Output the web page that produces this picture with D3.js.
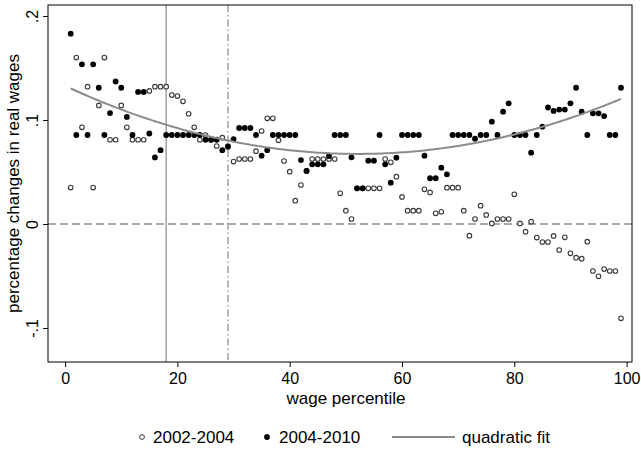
<!DOCTYPE html>
<html>
<head>
<meta charset="utf-8">
<script src="https://cdn.jsdelivr.net/npm/d3@7"></script>
<style>
  body { margin: 0; background: #fff; }
  svg { display: block; font-family: "Liberation Sans", Arial, sans-serif; }
</style>
</head>
<body>
<svg id="chart" width="641" height="451"></svg>
<script>
// Wage percentiles 1..99
const percentiles = d3.range(1, 100);

// Percentage change in real wages, 2002-2004
const change0204 = [
  0.035, 0.160, 0.093, 0.132, 0.035, 0.114, 0.160, 0.081, 0.081, 0.114,
  0.093, 0.081, 0.081, 0.081, 0.128, 0.132, 0.132, 0.132, 0.124, 0.123,
  0.118, 0.106, 0.093, 0.081, 0.0856, 0.081, 0.075, 0.083, 0.075, 0.060,
  0.0625, 0.0625, 0.0625, 0.070, 0.0894, 0.1016, 0.1016, 0.0805, 0.0606, 0.0503,
  0.0224, 0.0375, 0.051, 0.0625, 0.0625, 0.0625, 0.0625, 0.0625, 0.0295, 0.0128,
  0.0048, 0.0343, 0.0343, 0.0343, 0.0343, 0.0343, 0.0625, 0.0593, 0.0455, 0.026,
  0.0128, 0.0128, 0.0128, 0.0333, 0.0304, 0.0103, 0.0118, 0.0349, 0.0349, 0.0349,
  0.0128, -0.0112, 0.0048, 0.0176, 0.0087, 0.0006, 0.0048, 0.0048, 0.0048, 0.0285,
  0.0006, -0.0074, 0.0022, -0.0131, -0.0173, -0.0173, -0.0115, -0.025, -0.0128, -0.0282,
  -0.0324, -0.0333, -0.017, -0.0452, -0.0503, -0.0433, -0.0452, -0.0452, -0.0907
];

// Percentage change in real wages, 2004-2010
const change0410 = [
  0.183, 0.0856, 0.1535, 0.0856, 0.1535, 0.131, 0.0856, 0.1067, 0.137, 0.131,
  0.103, 0.0856, 0.127, 0.127, 0.087, 0.064, 0.071, 0.0856, 0.0856, 0.0856,
  0.0856, 0.0856, 0.0856, 0.0856, 0.081, 0.081, 0.081, 0.071, 0.0743, 0.0817,
  0.0923, 0.0923, 0.0923, 0.0856, 0.0657, 0.071, 0.0856, 0.0856, 0.0856, 0.0856,
  0.0856, 0.0615, 0.051, 0.0574, 0.0574, 0.0574, 0.0654, 0.0856, 0.0856, 0.0856,
  0.0641, 0.0343, 0.0343, 0.0609, 0.0609, 0.0856, 0.0574, 0.0397, 0.0638, 0.0856,
  0.0856, 0.0856, 0.0856, 0.0657, 0.044, 0.044, 0.0542, 0.0478, 0.0856, 0.0856,
  0.0856, 0.0856, 0.082, 0.0856, 0.0856, 0.0984, 0.0856, 0.108, 0.116, 0.0856,
  0.0856, 0.0856, 0.0686, 0.0856, 0.0936, 0.112, 0.1087, 0.110, 0.110, 0.116,
  0.131, 0.108, 0.0856, 0.1064, 0.1064, 0.1038, 0.0856, 0.0856, 0.131
];

// Reference lines (percentiles)
const refSolid = 18;
const refDashDot = 29;

// Axis ticks
const xTicks = [0, 20, 40, 60, 80, 100];
const yTicks = [-0.1, 0, 0.1, 0.2];
const yTickLabels = ["-.1", "0", ".1", ".2"];

// Legend entries
const seriesNames = ["2002-2004", "2004-2010", "quadratic fit"];

const svg = d3.select("#chart");

// Plot region frame
const frame = { left: 48, right: 632, top: 5, bottom: 362 };

const x = d3.scaleLinear().domain([0, 100]).range([65.1, 626.6]);
const y = d3.scaleLinear().domain([-0.1, 0.2]).range([328, 16]);

const grey = "#8c8c8c";
const tickFont = 16;
const labelFont = 17;

// Quadratic least-squares fit of the 2004-2010 changes on percentile
function quadFit(xs, ys) {
  let s = [0, 0, 0, 0, 0], t = [0, 0, 0];
  xs.forEach((xv, i) => {
    const yv = ys[i];
    for (let k = 0; k < 5; k++) s[k] += Math.pow(xv, k);
    for (let k = 0; k < 3; k++) t[k] += yv * Math.pow(xv, k);
  });
  const A = [[s[0], s[1], s[2], t[0]], [s[1], s[2], s[3], t[1]], [s[2], s[3], s[4], t[2]]];
  for (let i = 0; i < 3; i++) {
    for (let j = i + 1; j < 3; j++) {
      const f = A[j][i] / A[i][i];
      for (let k = i; k < 4; k++) A[j][k] -= f * A[i][k];
    }
  }
  const c = [0, 0, 0];
  for (let i = 2; i >= 0; i--) {
    let v = A[i][3];
    for (let k = i + 1; k < 3; k++) v -= A[i][k] * c[k];
    c[i] = v / A[i][i];
  }
  return xv => c[0] + c[1] * xv + c[2] * xv * xv;
}
const fit = quadFit(percentiles, change0410);

// Zero line
svg.append("line")
  .attr("x1", frame.left).attr("x2", frame.right)
  .attr("y1", y(0)).attr("y2", y(0))
  .attr("stroke", grey).attr("stroke-width", 1.5)
  .attr("stroke-dasharray", "8,4");

// Vertical reference lines
svg.append("line")
  .attr("x1", x(refSolid)).attr("x2", x(refSolid))
  .attr("y1", frame.top).attr("y2", frame.bottom)
  .attr("stroke", "#a0a0a0").attr("stroke-width", 1.5);

svg.append("line")
  .attr("x1", x(refDashDot)).attr("x2", x(refDashDot))
  .attr("y1", frame.top).attr("y2", frame.bottom)
  .attr("stroke", "#a0a0a0").attr("stroke-width", 1.5)
  .attr("stroke-dasharray", "7,3,1.5,3");

// 2002-2004: hollow circles
svg.append("g").selectAll("circle")
  .data(percentiles)
  .join("circle")
  .attr("cx", (d) => x(d))
  .attr("cy", (d, i) => y(change0204[i]))
  .attr("r", 2.3)
  .attr("fill", "#fff")
  .attr("stroke", "#3a3a3a")
  .attr("stroke-width", 1.1);

// 2004-2010: filled circles
svg.append("g").selectAll("circle")
  .data(percentiles)
  .join("circle")
  .attr("cx", (d) => x(d))
  .attr("cy", (d, i) => y(change0410[i]))
  .attr("r", 2.9)
  .attr("fill", "#000");

// Quadratic fit
const fitLine = d3.line().x(d => x(d)).y(d => y(fit(d)));
svg.append("path")
  .datum(d3.range(1, 99.01, 0.5))
  .attr("d", fitLine)
  .attr("fill", "none")
  .attr("stroke", grey)
  .attr("stroke-width", 2);

// Frame
svg.append("rect")
  .attr("x", frame.left).attr("y", frame.top)
  .attr("width", frame.right - frame.left)
  .attr("height", frame.bottom - frame.top)
  .attr("fill", "none").attr("stroke", "#000").attr("stroke-width", 1);

// X axis
const xAxis = svg.append("g")
  .attr("transform", `translate(0,${frame.bottom})`)
  .call(d3.axisBottom(x).tickValues(xTicks).tickSize(5).tickPadding(6).tickFormat(d3.format("d")));
xAxis.select(".domain").remove();
xAxis.selectAll("text").attr("font-size", tickFont).attr("fill", "#000")
  .attr("font-family", "Liberation Sans, Arial, sans-serif");

// Y axis
const yAxis = svg.append("g")
  .attr("transform", `translate(${frame.left},0)`)
  .call(d3.axisLeft(y).tickValues(yTicks).tickSize(5)
    .tickFormat((d, i) => yTickLabels[i]));
yAxis.select(".domain").remove();
yAxis.selectAll("text")
  .attr("font-size", tickFont).attr("fill", "#000")
  .attr("font-family", "Liberation Sans, Arial, sans-serif")
  .attr("x", null).attr("dy", null)
  .attr("text-anchor", "middle")
  .attr("transform", "translate(-10,0) rotate(-90)");

// Axis titles
svg.append("text")
  .attr("x", (frame.left + frame.right) / 2 + 6)
  .attr("y", 404)
  .attr("text-anchor", "middle")
  .attr("font-size", labelFont)
  .text("wage percentile");

svg.append("text")
  .attr("transform", `translate(19,${(frame.top + frame.bottom) / 2}) rotate(-90)`)
  .attr("text-anchor", "middle")
  .attr("font-size", labelFont)
  .text("percentage changes in real wages");

// Legend
const legY = 437;
const leg = svg.append("g").attr("font-size", labelFont);
leg.append("circle").attr("cx", 142).attr("cy", legY).attr("r", 2.4)
  .attr("fill", "#fff").attr("stroke", "#3a3a3a").attr("stroke-width", 1);
leg.append("text").attr("x", 153).attr("y", legY + 6).text(seriesNames[0]);
leg.append("circle").attr("cx", 267).attr("cy", legY).attr("r", 2.9).attr("fill", "#000");
leg.append("text").attr("x", 279).attr("y", legY + 6).text(seriesNames[1]);
leg.append("line").attr("x1", 392).attr("x2", 455).attr("y1", legY).attr("y2", legY)
  .attr("stroke", grey).attr("stroke-width", 2);
leg.append("text").attr("x", 462).attr("y", legY + 6).text(seriesNames[2]);
</script>
</body>
</html>
